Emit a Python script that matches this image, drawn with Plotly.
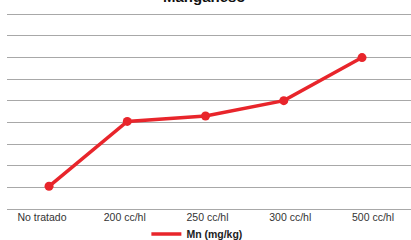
import plotly.graph_objects as go

categories = ["No tratado", "200 cc/hl", "250 cc/hl", "300 cc/hl", "500 cc/hl"]
mn_values = [1.05, 4.05, 4.3, 5.01, 7.0]
series_name = "Mn (mg/kg)"
title_text = "Manganeso"

W, H = 411, 240
L, R, T, B = 7, 0, 13, 31
plot_h = H - T - B
RED = "#e8252b"
FONT = "Liberation Sans, Arial, sans-serif"

fig = go.Figure()
fig.add_trace(go.Scatter(
    x=list(range(len(categories))), y=mn_values, name=series_name,
    mode="lines+markers", xaxis="x2", showlegend=False,
    line=dict(color=RED, width=3.5),
    marker=dict(color=RED, size=9),
))
fig.add_trace(go.Scatter(
    x=[None], y=[None], name=series_name, mode="lines",
    line=dict(color=RED, width=3.5), hoverinfo="skip",
))

fig.update_layout(
    width=W, height=H,
    margin=dict(l=L, r=R, t=T, b=B, pad=0, autoexpand=False),
    paper_bgcolor="white", plot_bgcolor="white",
    font=dict(family=FONT, size=11, color="#404040"),
    xaxis=dict(
        tickmode="array", tickvals=list(range(len(categories))), ticktext=categories,
        range=[-0.423, 4.459], showgrid=False, zeroline=False,
        showline=False, ticks="", fixedrange=True,
        tickfont=dict(family=FONT, size=10.5, color="#333333"),
    ),
    xaxis2=dict(
        overlaying="x", range=[-0.537, 4.626], visible=False, fixedrange=True,
    ),
    yaxis=dict(
        range=[0, plot_h / 21.63], dtick=1, showticklabels=False, showgrid=True,
        gridcolor="#a8a8a8", gridwidth=1, zeroline=True, zerolinecolor="#a8a8a8",
        zerolinewidth=1, fixedrange=True,
    ),
    showlegend=True,
    legend=dict(
        orientation="h", x=0.47, xanchor="center", y=-(234 - (H - B)) / plot_h, yanchor="middle",
        font=dict(family=FONT, size=10.5, color="#222222", weight="bold"),
        bgcolor="rgba(0,0,0,0)",
    ),
    annotations=[dict(
        text=title_text, xref="paper", yref="paper", x=0.49, y=1 + 16 / plot_h,
        xanchor="center", yanchor="middle", showarrow=False,
        font=dict(family=FONT, size=15, color="#111111", weight="bold"),
    )],
)

fig.write_html("out.html", config={"displayModeBar": False},
               post_script="document.body.style.margin='0';document.body.style.padding='0';")
